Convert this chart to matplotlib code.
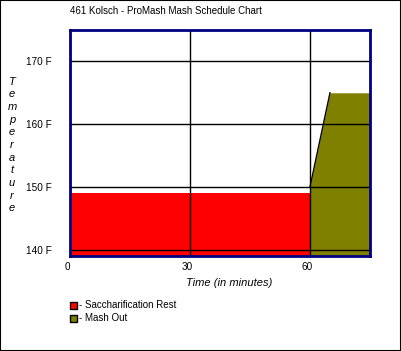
import matplotlib.pyplot as plt
from matplotlib.patches import Rectangle
from matplotlib.transforms import ScaledTranslation

plt.rcParams['font.family'] = ['Liberation Sans', 'DejaVu Sans']

title = '461 Kolsch - ProMash Mash Schedule Chart'
step_names = ['Saccharification Rest', 'Mash Out']
step_colors = ['#ff0000', '#808000']

# step profiles (minutes, deg F)
sacch_time = [0, 60]
sacch_temp = [149, 149]
mashout_time = [60, 65, 75]
mashout_temp = [150, 165, 165]

x_ticks = [0, 30, 60]
y_ticks = [140, 150, 160, 170]
y_labels = ['140 F', '150 F', '160 F', '170 F']
base_temp = 139

W, H = 401, 351
fig = plt.figure(figsize=(W / 100, H / 100), dpi=100)
ax = fig.add_axes([70 / W, (H - 256) / H, 300 / W, 226 / H])

ax.fill_between(sacch_time, sacch_temp, base_temp, color=step_colors[0], lw=0, zorder=1)
ax.fill_between(mashout_time, mashout_temp, base_temp, color=step_colors[1], lw=0, zorder=1)
ax.plot(mashout_time[:2], mashout_temp[:2], color='black', lw=1, zorder=2)

ax.set_xlim(0, 75)
ax.set_ylim(base_temp, 175)
ax.set_xticks(x_ticks)
ax.set_yticks(y_ticks)
ax.set_yticklabels(y_labels, fontsize=7.2)
ax.tick_params(length=0)
ax.tick_params(axis='y', pad=13)
ax.tick_params(axis='x', pad=4, labelsize=7.2)
for lbl in ax.get_xticklabels():
    lbl.set_transform(lbl.get_transform() + ScaledTranslation(-3 / 100, 0, fig.dpi_scale_trans))
ax.grid(True, color='black', lw=1)
ax.set_axisbelow(False)
for s in ax.spines.values():
    s.set_color('#000080')
    s.set_linewidth(2)
    s.set_zorder(5)

fig.text(70 / W, 1 - 11 / H, title, fontsize=7, ha='left', va='center')
fig.text(229 / W, 1 - 283 / H, 'Time (in minutes)', fontsize=8, style='italic',
         ha='center', va='center')
fig.text(12 / W, 1 - 145 / H, '\n'.join('Temperature'), fontsize=8, style='italic',
         ha='center', va='center', linespacing=1.33)

legend_y = [305, 318]
for name, col, yy in zip(step_names, step_colors, legend_y):
    fig.add_artist(Rectangle((70 / W, 1 - (yy + 4) / H), 7 / W, 7 / H, facecolor=col,
                             edgecolor='black', lw=1, transform=fig.transFigure))
    fig.text(79 / W, 1 - yy / H, '- ' + name, fontsize=7, ha='left', va='center')

fig.add_artist(Rectangle((0, 0), 1, 1, fill=False, edgecolor='black', lw=1.5,
                         transform=fig.transFigure))

fig.savefig('out.png', dpi=100)
